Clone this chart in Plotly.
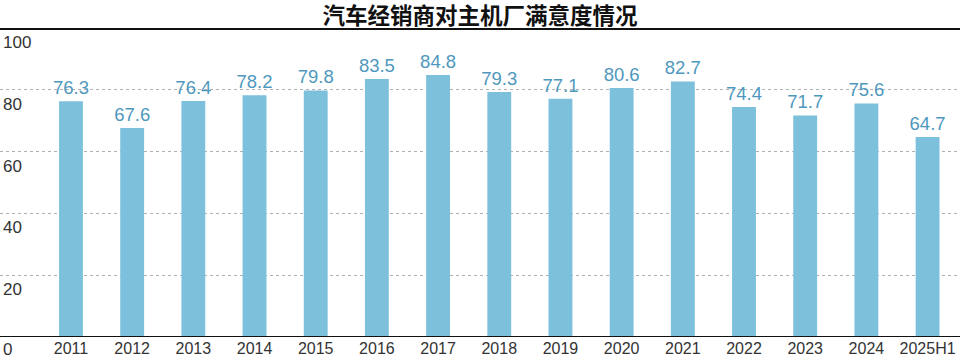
import plotly.graph_objects as go

title_text = "汽车经销商对主机厂满意度情况"
categories = ["2011", "2012", "2013", "2014", "2015", "2016", "2017", "2018",
              "2019", "2020", "2021", "2022", "2023", "2024", "2025H1"]
values = [76.3, 67.6, 76.4, 78.2, 79.8, 83.5, 84.8, 79.3,
          77.1, 80.6, 82.7, 74.4, 71.7, 75.6, 64.7]
y_ticks = [0, 20, 40, 60, 80, 100]
y_tick_labels = ["0", "20", "40", "60", "80", "100"]

W, H = 960, 359
BAR_COLOR = "#7cc0dc"
LABEL_COLOR = "#4f98bd"
FONT = "Liberation Sans, Arial, sans-serif"

fig = go.Figure()
fig.add_trace(go.Bar(
    x=categories, y=values,
    width=0.39,
    marker=dict(color=BAR_COLOR, line=dict(width=0)),
    text=[f"{v:.1f}" for v in values],
    textposition="outside",
    constraintext="none",
    textfont=dict(family=FONT, size=18.5, color=LABEL_COLOR),
    cliponaxis=False,
    hoverinfo="x+y",
))

annotations = []
for v, lab in zip(y_ticks, y_tick_labels):
    annotations.append(dict(
        x=0, xref="paper", y=v, yref="y",
        text=lab, showarrow=False,
        xanchor="left", yanchor="top", xshift=1, yshift=(-3 if v else -1),
        font=dict(family=FONT, size=17, color="#333333"),
    ))

shapes = [
    dict(type="line", xref="paper", yref="y", x0=0, x1=1, y0=100, y1=100,
         line=dict(color="#111111", width=4)),
    dict(type="line", xref="paper", yref="y", x0=0, x1=1, y0=0, y1=0,
         line=dict(color="#111111", width=2)),
]

fig.update_layout(
    width=W, height=H,
    margin=dict(l=0, r=0, t=28, b=22, autoexpand=False),
    paper_bgcolor="white", plot_bgcolor="white",
    showlegend=False,
    title=dict(text=title_text, x=0.5, xanchor="center",
               y=1 - 16.5 / H, yref="container", yanchor="middle",
               font=dict(family="Noto Sans CJK SC", size=22.5, color="#111111", weight="bold")),
    xaxis=dict(type="category", range=[-1.16, 14.53],
               showgrid=False, zeroline=False, showline=False,
               ticks="", tickfont=dict(family=FONT, size=16, color="#333333"),
               fixedrange=True),
    yaxis=dict(range=[0, 100], tickvals=[20, 40, 60, 80],
               showticklabels=False, showgrid=True,
               gridcolor="#b0b0b0", gridwidth=1.3, griddash="dot",
               zeroline=False, showline=False, fixedrange=True),
    annotations=annotations,
    shapes=shapes,
    bargap=0.6,
)

fig.write_html(
    "out.html",
    config={"displayModeBar": False},
    post_script="document.body.style.margin='0';document.body.style.overflow='hidden';",
)
